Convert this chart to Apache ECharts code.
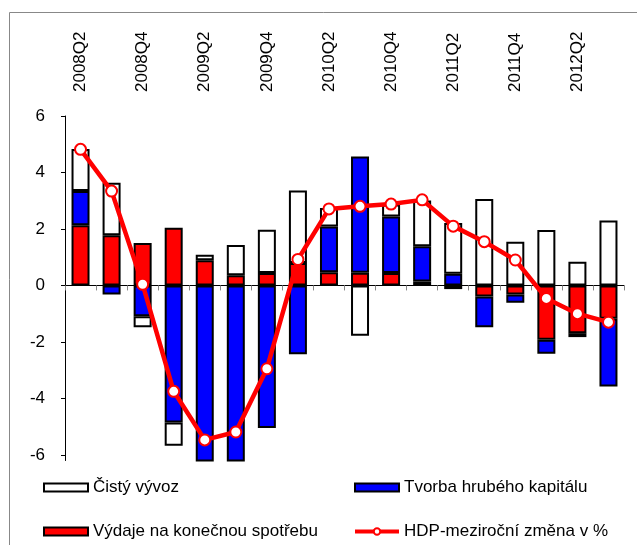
<!DOCTYPE html>
<html>
<head>
<meta charset="utf-8">
<script src="https://cdn.jsdelivr.net/npm/echarts@6/dist/echarts.min.js"></script>
<style>
  html, body { margin: 0; padding: 0; background: #fff; }
  #chart { width: 637px; height: 545px; }
</style>
</head>
<body>
<div id="chart"></div>
<script>
// čtvrtletí
const categories = [
  "2008Q2", "2008Q3", "2008Q4", "2009Q1", "2009Q2", "2009Q3", "2009Q4",
  "2010Q1", "2010Q2", "2010Q3", "2010Q4", "2011Q1", "2011Q2", "2011Q3",
  "2011Q4", "2012Q1", "2012Q2", "2012Q3"
];
// příspěvky ke změně HDP (p.b.)
const vydajeSpotreba = [2.13, 1.78, 1.50, 2.04, 0.89, 0.36, 0.44, 0.79, 0.47, 0.45, 0.44, 0.14, -0.13, -0.39, -0.32, -1.92, -1.69, -1.18];
const tvorbaKapitalu = [1.21, -0.32, -1.09, -4.85, -6.56, -6.62, -5.05, -2.44, 1.62, 4.12, 2.00, 1.25, 0.41, -1.09, -0.29, -0.50, -0.14, -2.40];
const cistyVyvoz = [1.49, 1.86, -0.39, -0.83, 0.20, 1.07, 1.53, 2.57, 0.65, -1.78, 0.43, 1.62, 1.80, 3.06, 1.55, 1.96, 0.84, 2.30];
const hdpZmena = [4.82, 3.34, 0.04, -3.75, -5.47, -5.19, -2.95, 0.92, 2.71, 2.80, 2.88, 3.03, 2.10, 1.55, 0.90, -0.46, -1.00, -1.30];
// popisky osy y
const yTicks = [-6, -4, -2, 0, 2, 4, 6];

const FONT = "'Liberation Sans', Arial, sans-serif";

const chart = echarts.init(document.getElementById("chart"));

const barSeries = (name, data, color) => ({
  name: name,
  type: "bar",
  stack: "hdp",
  data: data,
  barWidth: 18,
  itemStyle: {
    color: color,
    borderColor: "#000",
    borderWidth: 2
  }
});

const legendCommon = {
  orient: "vertical",
  top: 474,
  itemWidth: 44,
  itemHeight: 8,
  itemGap: 27,
  selectedMode: false,
  textStyle: { fontFamily: FONT, fontSize: 17, color: "#000" }
};

chart.setOption({
  animation: false,
  backgroundColor: "#fff",
  graphic: [
    {
      // rámeček grafu
      type: "rect",
      shape: { x: 9.5, y: 12.5, width: 700, height: 600 },
      style: { fill: "none", stroke: "#888", lineWidth: 1 },
      silent: true,
      z: -1
    }
  ],
  grid: {
    left: 65,
    right: 13,
    top: 116,
    bottom: 84.5
  },
  legend: [
    Object.assign({}, legendCommon, {
      left: 38,
      data: [
        { name: "Čistý vývoz", icon: "rect" },
        { name: "Výdaje na konečnou spotřebu", icon: "rect" }
      ]
    }),
    Object.assign({}, legendCommon, {
      left: 348,
      lineStyle: { width: 4 },
      data: [
        { name: "Tvorba hrubého kapitálu", icon: "rect" },
        { name: "HDP-meziroční změna v %" }
      ]
    })
  ],
  xAxis: [
    {
      type: "category",
      data: categories,
      axisLine: { onZero: true, lineStyle: { color: "#000", width: 1 } },
      axisTick: { show: true, interval: 0, length: 5, lineStyle: { color: "#888" } },
      axisLabel: { show: false },
      splitLine: { show: false }
    },
    {
      type: "category",
      position: "top",
      data: categories,
      axisLine: { show: false },
      axisTick: { show: false },
      axisLabel: {
        interval: 1,
        rotate: -90,
        margin: 24,
        fontFamily: FONT,
        fontSize: 17,
        color: "#000"
      }
    }
  ],
  yAxis: {
    type: "value",
    min: -6.2,
    max: 6,
    axisLine: { show: true, lineStyle: { color: "#000", width: 1 } },
    axisTick: { show: true, length: 4, customValues: yTicks, lineStyle: { color: "#000" } },
    axisLabel: {
      customValues: yTicks,
      margin: 20,
      fontFamily: FONT,
      fontSize: 17,
      color: "#000"
    },
    splitLine: { show: false }
  },
  series: [
    barSeries("Výdaje na konečnou spotřebu", vydajeSpotreba, "#ff0000"),
    barSeries("Tvorba hrubého kapitálu", tvorbaKapitalu, "#0000ff"),
    barSeries("Čistý vývoz", cistyVyvoz, "#ffffff"),
    {
      name: "HDP-meziroční změna v %",
      type: "line",
      data: hdpZmena,
      symbol: "circle",
      symbolSize: 11,
      z: 5,
      lineStyle: { color: "#ff0000", width: 4.5 },
      itemStyle: { color: "#fff", borderColor: "#ff0000", borderWidth: 2 }
    }
  ]
});
</script>
</body>
</html>
